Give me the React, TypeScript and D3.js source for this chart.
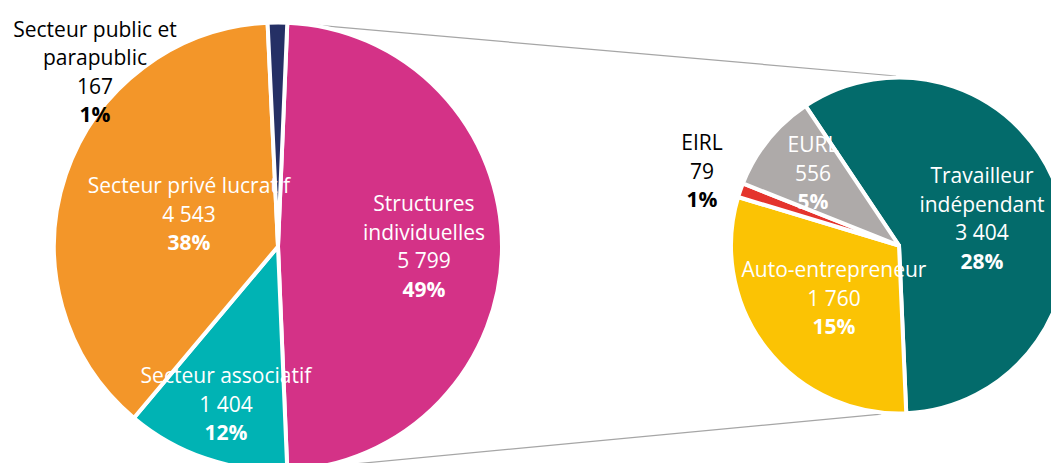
import React from "react";
import * as d3 from "d3";

// ---- data ----
const mainCategories = [
  "Structures individuelles",
  "Secteur associatif",
  "Secteur privé lucratif",
  "Secteur public et parapublic",
];
const mainValues = [5799, 1404, 4543, 167];
const mainPercents = ["49%", "12%", "38%", "1%"];
const mainLabelLines = [
  ["Structures", "individuelles"],
  ["Secteur associatif"],
  ["Secteur privé lucratif"],
  ["Secteur public et", "parapublic"],
];

const subCategories = ["Travailleur indépendant", "Auto-entrepreneur", "EIRL", "EURL"];
const subValues = [3404, 1760, 79, 556];
const subPercents = ["28%", "15%", "1%", "5%"];
const subLabelLines = [["Travailleur", "indépendant"], ["Auto-entrepreneur"], ["EIRL"], ["EURL"]];

// ---- styles / layout ----
const mainColors = ["#D43287", "#00B3B4", "#F39629", "#253065"];
const subColors = ["#036B6B", "#FBC304", "#E4342D", "#AEAAA9"];
const mainTextColors = ["#fff", "#fff", "#fff", "#000"];
const subTextColors = ["#fff", "#fff", "#000", "#fff"];

const W = 1051;
const H = 463;
const main = { cx: 278, cy: 246.5, r: 224 };
const sub = { cx: 899, cy: 245.5, r: 168, startDeg: -33.8 };
// label anchor (center x, first baseline) relative to pie centre
const mainLabelOffsets = [
  [146, -35.5],
  [-52, 136.5],
  [-89, -53.5],
  [-183, -210],
];
const subLabelOffsets = [
  [83, -62.5],
  [-65, 31.5],
  [-197, -95.5],
  [-86, -93.5],
];
const LINE = 28.6;
const FONT = 21;

const fmt = (v: number) => d3.format(",")(v).replace(/,/g, " ");

function Labels({ cx, cy, lines, values, percents, offsets, colors }: any) {
  return (
    <g>
      {lines.map((ls: string[], i: number) => {
        const x = cx + offsets[i][0];
        const y0 = cy + offsets[i][1];
        const all = [...ls, fmt(values[i])];
        return (
          <text key={i} textAnchor="middle" fill={colors[i]} fontSize={FONT}>
            {all.map((t, j) => (
              <tspan key={j} x={x} y={y0 + j * LINE}>
                {t}
              </tspan>
            ))}
            <tspan x={x} y={y0 + all.length * LINE} fontWeight="bold">
              {percents[i]}
            </tspan>
          </text>
        );
      })}
    </g>
  );
}

export default function App() {
  const mainTotal = d3.sum(mainValues);
  const pinkAngle = (2 * Math.PI * mainValues[0]) / mainTotal;
  const mainStart = Math.PI / 2 - pinkAngle / 2;
  const mainPie = d3
    .pie<number>()
    .sort(null)
    .startAngle(mainStart)
    .endAngle(mainStart + 2 * Math.PI)(mainValues);
  const subStart = (sub.startDeg * Math.PI) / 180;
  const subPie = d3
    .pie<number>()
    .sort(null)
    .startAngle(subStart)
    .endAngle(subStart + 2 * Math.PI)(subValues);

  const mainArc = d3.arc<d3.PieArcDatum<number>>().innerRadius(0).outerRadius(main.r);
  const subArc = d3.arc<d3.PieArcDatum<number>>().innerRadius(0).outerRadius(sub.r);

  const pt = (c: any, a: number, r: number) => [c.cx + r * Math.sin(a), c.cy - r * Math.cos(a)];
  const pinkSlice = mainPie[0];
  const topA = pt(main, pinkSlice.startAngle, main.r);
  const botA = pt(main, pinkSlice.endAngle, main.r);
  const topB = pt(sub, (-1 * Math.PI) / 180, sub.r + 1.5);
  const botB = pt(sub, (186 * Math.PI) / 180, sub.r + 1.5);

  return (
    <div style={{ position: "absolute", left: 0, top: 0 }}>
      <svg width={W} height={H} style={{ display: "block", fontFamily: "'Open Sans', sans-serif" }}>
        <rect width={W} height={H} fill="#fff" />
        <line x1={topA[0]} y1={topA[1]} x2={topB[0]} y2={topB[1]} stroke="#A6A6A6" strokeWidth={1.2} />
        <line x1={botA[0]} y1={botA[1]} x2={botB[0]} y2={botB[1]} stroke="#A6A6A6" strokeWidth={1.2} />
        <g transform={`translate(${main.cx},${main.cy})`}>
          {mainPie.map((d, i) => (
            <path key={i} d={mainArc(d) || ""} fill={mainColors[i]} stroke="#fff" strokeWidth={4} strokeLinejoin="round">
              <title>{mainCategories[i]}</title>
            </path>
          ))}
        </g>
        <g transform={`translate(${sub.cx},${sub.cy})`}>
          {subPie.map((d, i) => (
            <path key={i} d={subArc(d) || ""} fill={subColors[i]} stroke="#fff" strokeWidth={4} strokeLinejoin="round">
              <title>{subCategories[i]}</title>
            </path>
          ))}
        </g>
        <Labels
          cx={main.cx}
          cy={main.cy}
          lines={mainLabelLines}
          values={mainValues}
          percents={mainPercents}
          offsets={mainLabelOffsets}
          colors={mainTextColors}
        />
        <Labels
          cx={sub.cx}
          cy={sub.cy}
          lines={subLabelLines}
          values={subValues}
          percents={subPercents}
          offsets={subLabelOffsets}
          colors={subTextColors}
        />
      </svg>
    </div>
  );
}
